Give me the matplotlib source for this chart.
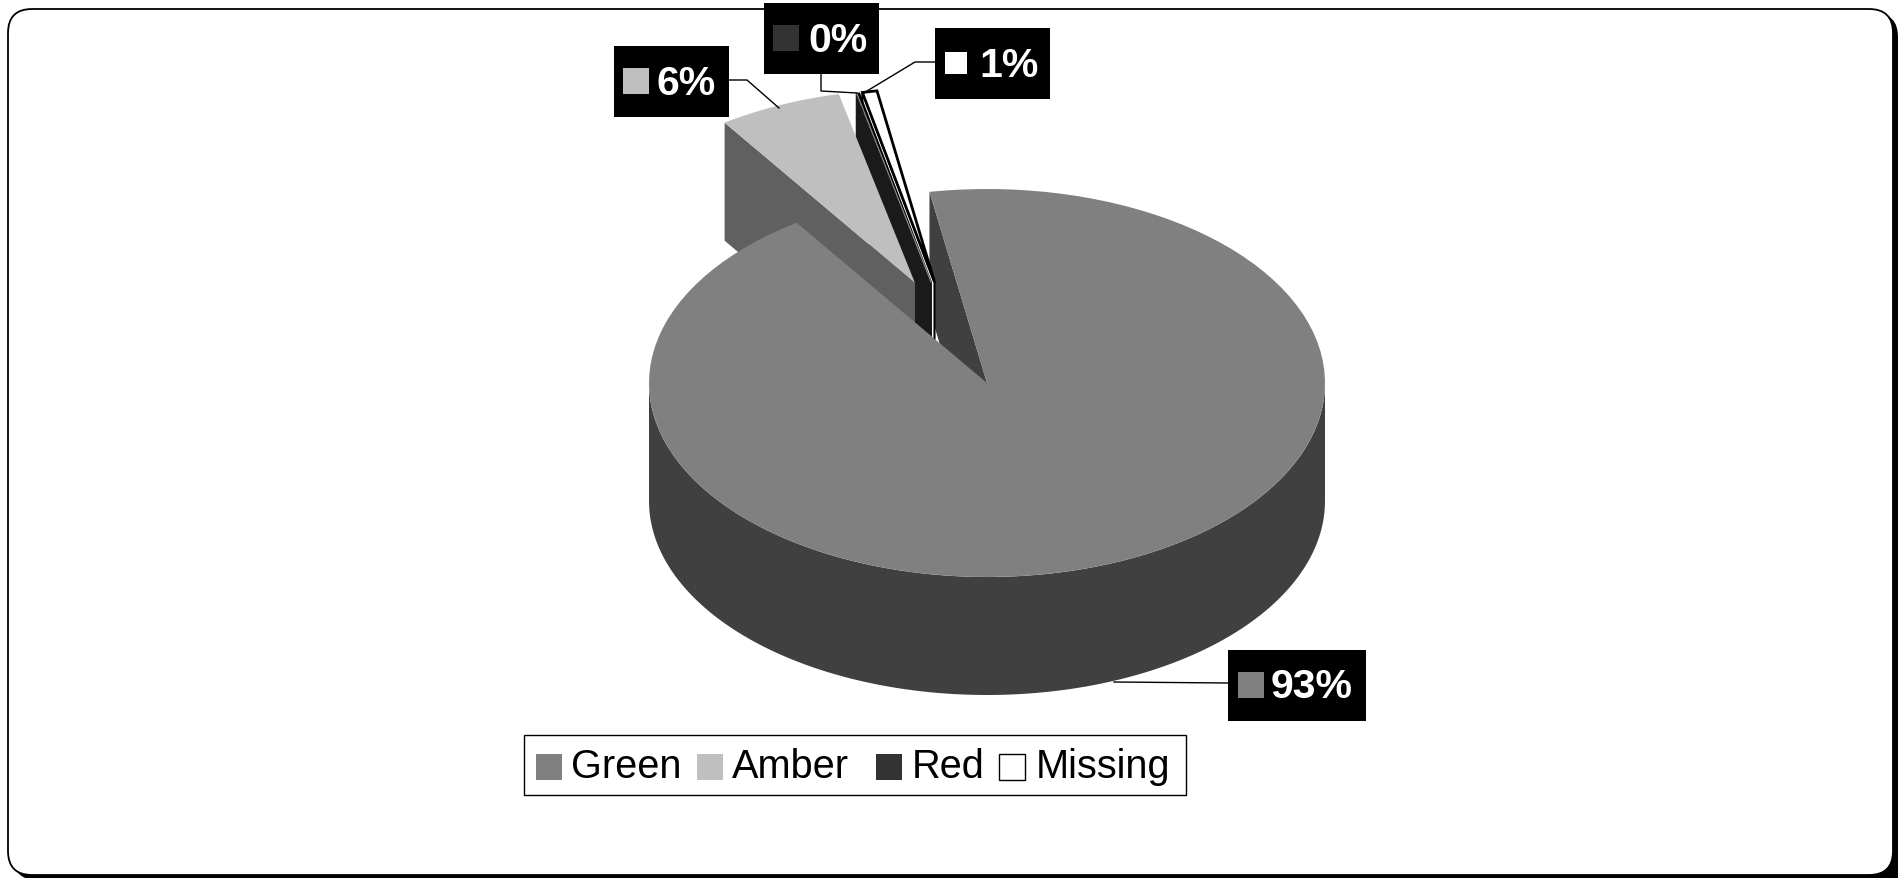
import numpy as np
import matplotlib
matplotlib.use('Agg')
import matplotlib.pyplot as plt
from matplotlib.patches import FancyBboxPatch, Rectangle

plt.rcParams['font.family'] = ['Liberation Sans', 'DejaVu Sans']

# data
categories = ['Green', 'Amber', 'Red', 'Missing']
values = [93.2, 5.9, 0.2, 0.7]

top_colors = ['#808080', '#bfbfbf', '#000000', '#ffffff']
cut_colors = ['#404040', '#606060', '#1a1a1a', '#ffffff']
swatch_colors = ['#808080', '#bfbfbf', '#333333', '#ffffff']

# pie geometry, in pixels of the picture
CX, CY = 987, 383
RX, RY = 338, 194
DEPTH = 118
START = -9.8
# apex of each slice (the small ones are pulled out of the pie)
apex = [(987, 383), (915, 283), (932, 282), (934.5, 282)]


def rim(tip, a0, a1, n=120):
    t = np.radians(np.linspace(a0, a1, n))
    return tip[0] + RX * np.sin(t), tip[1] - RY * np.cos(t)


def box(ax, x0, y0, x1, y1, r, **kw):
    ax.add_patch(FancyBboxPatch((x0 + r, y0 + r), x1 - x0 - 2 * r, y1 - y0 - 2 * r,
                                boxstyle=f'round,pad={r},rounding_size={r}', **kw))


fig = plt.figure(figsize=(18.98, 8.79), dpi=100)
ax = fig.add_axes([0, 0, 1, 1])
ax.set_xlim(0, 1898)
ax.set_ylim(878, -1)
ax.axis('off')

# frame with shadow
box(ax, 13, 13, 1898, 880, 24, fc='black', ec='none')
ax.add_patch(Rectangle((1870, 855), 30, 26, fc='black', ec='none'))
box(ax, 8, 9, 1893, 875, 24, fc='white', ec='black', lw=1.3)

# slice angles, clockwise from the top
sweeps = np.array(values) / sum(values) * 360
starts = START + np.concatenate([[0], np.cumsum(sweeps)[:-1]])

# outer wall of the big slice
x, y = rim(apex[0], 90, 270)
ax.fill(np.r_[x, x[::-1]], np.r_[y, y[::-1] + DEPTH], color='#404040', lw=0)


def cut_face(i, **kw):
    x, y = rim(apex[i], starts[i], starts[i], 2)
    ax.fill([x[0], apex[i][0], apex[i][0], x[0]],
            [y[0], apex[i][1], apex[i][1] + DEPTH, y[0] + DEPTH], **kw)


def top_face(i, **kw):
    x, y = rim(apex[i], starts[i], starts[i] + sweeps[i])
    ax.fill(np.r_[apex[i][0], x], np.r_[apex[i][1], y], **kw)


# back to front: the later faces hide the earlier ones
cut_face(0, color=cut_colors[0], lw=0)
cut_face(3, fc=cut_colors[3], ec='black', lw=1.5)
cut_face(2, color=cut_colors[2], lw=0)
cut_face(1, color=cut_colors[1], lw=0)
top_face(1, color=top_colors[1], lw=0)

# pale seam beside the red slice
x, y = rim(apex[2], starts[2], starts[2], 2)
ax.plot([x[0] + 1, apex[2][0] - 1], [y[0], apex[2][1]], color='#8c8c8c', lw=0.8)
top_face(3, fc=top_colors[3], ec='black', lw=2, joinstyle='miter')
top_face(2, color=top_colors[2], lw=0)
top_face(0, color=top_colors[0], lw=0)

# leader lines
leaders = [([729, 747, 779], [80, 80, 108]),
           ([821, 821, 857], [74, 91, 93]),
           ([935, 915, 867], [62, 62, 91]),
           ([1228, 1114], [683, 682])]
for lx, ly in leaders:
    ax.plot(lx, ly, color='black', lw=1.0)

# data labels: box, swatch, text position
label_order = [1, 2, 3, 0]
label_boxes = [(614, 46, 729, 117), (764, 3, 879, 74), (935, 28, 1050, 99), (1228, 650, 1366, 721)]
label_swatches = [(623, 68, 26), (773, 25, 26), (945, 52, 22), (1238, 672, 26)]
label_text = [(657, 94), (808, 51), (979, 76), (1271, 697)]
for i, b, s, t in zip(label_order, label_boxes, label_swatches, label_text):
    ax.add_patch(Rectangle((b[0], b[1]), b[2] - b[0], b[3] - b[1], fc='black', ec='none', zorder=5))
    ax.add_patch(Rectangle((s[0], s[1]), s[2], s[2], fc=swatch_colors[i], ec='none', zorder=6))
    ax.text(t[0], t[1], f'{values[i]:.0f}%', color='white', fontsize=29.5, fontweight='bold',
            ha='left', va='baseline', zorder=6)

# legend
ax.add_patch(Rectangle((524, 735), 662, 60, fc='white', ec='black', lw=1.0, zorder=5))
legend_swatch_x = [536, 697, 876, 999]
legend_text_x = [571, 732, 912, 1036]
for i, name in enumerate(categories):
    ax.add_patch(Rectangle((legend_swatch_x[i], 754), 26, 26, fc=swatch_colors[i],
                           ec='black' if name == 'Missing' else 'none', lw=1.0, zorder=6))
    ax.text(legend_text_x[i], 777, name, color='black', fontsize=28.6, ha='left', va='baseline', zorder=6)

fig.savefig('out.png', dpi=100)
plt.close(fig)
